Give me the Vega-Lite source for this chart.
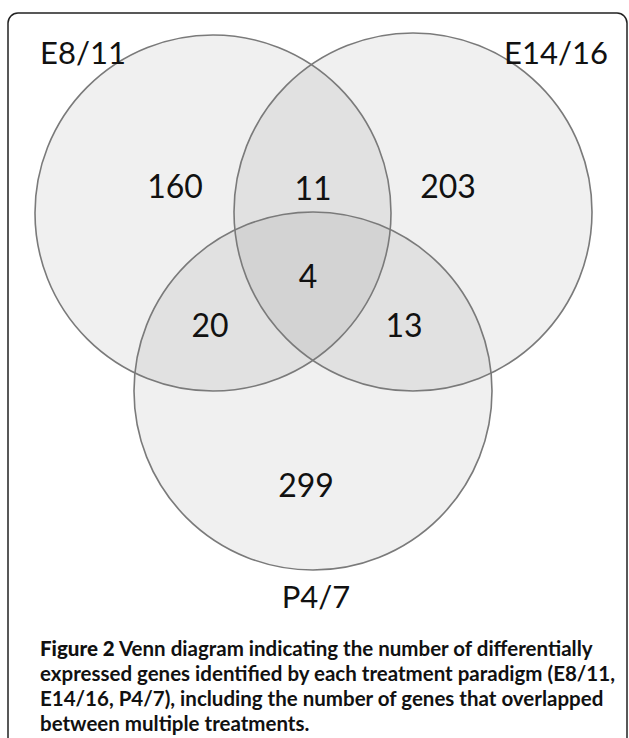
{
  "$schema": "https://vega.github.io/schema/vega-lite/v6.json",
  "width": 629,
  "height": 738,
  "padding": 0,
  "autosize": {"type": "none"},
  "background": "white",
  "config": {"view": {"stroke": null}},
  "datasets": {
    "box": [{"x": 8, "y": 13, "x2": 627, "y2": 760}],
    "circles": [
      {"set": "E8/11", "cx": 213, "cy": 213, "r": 178},
      {"set": "E14/16", "cx": 413, "cy": 212, "r": 179},
      {"set": "P4/7", "cx": 313, "cy": 391, "r": 179}
    ],
    "labels": [
      {"text": "E8/11", "x": 83, "y": 64},
      {"text": "E14/16", "x": 556, "y": 64},
      {"text": "P4/7", "x": 316, "y": 608}
    ],
    "counts": [
      {"region": "E8/11 only", "count": "160", "x": 175, "y": 198},
      {"region": "E8/11 & E14/16", "count": "11", "x": 313, "y": 200},
      {"region": "E14/16 only", "count": "203", "x": 448, "y": 198},
      {"region": "all three", "count": "4", "x": 308, "y": 288},
      {"region": "E8/11 & P4/7", "count": "20", "x": 210, "y": 337},
      {"region": "E14/16 & P4/7", "count": "13", "x": 404, "y": 337},
      {"region": "P4/7 only", "count": "299", "x": 306, "y": 497}
    ],
    "captionBold": [{"text": "Figure 2", "x": 40, "y": 656}],
    "caption": [
      {"text": "Venn diagram indicating the number of differentially", "x": 119, "y": 656},
      {"text": "expressed genes identified by each treatment paradigm (E8/11,", "x": 40, "y": 681},
      {"text": "E14/16, P4/7), including the number of genes that overlapped", "x": 40, "y": 706},
      {"text": "between multiple treatments.", "x": 40, "y": 731}
    ]
  },
  "layer": [
    {
      "data": {"name": "box"},
      "mark": {"type": "rect", "fill": null, "stroke": "#222222", "strokeWidth": 1.5, "cornerRadius": 10},
      "encoding": {
        "x": {"field": "x", "type": "quantitative", "scale": {"domain": [0, 629], "nice": false, "zero": false}, "axis": null},
        "y": {"field": "y", "type": "quantitative", "scale": {"domain": [0, 738], "nice": false, "zero": false, "reverse": true}, "axis": null},
        "x2": {"field": "x2"},
        "y2": {"field": "y2"}
      }
    },
    {
      "data": {"name": "circles"},
      "mark": {"type": "point", "shape": "circle", "filled": true, "fill": "#000000", "fillOpacity": 0.06, "strokeWidth": 0},
      "encoding": {
        "x": {"field": "cx", "type": "quantitative", "axis": null},
        "y": {"field": "cy", "type": "quantitative", "axis": null},
        "size": {"field": "r", "type": "quantitative", "legend": null, "scale": {"type": "pow", "exponent": 2, "domain": [0, 100], "range": [0, 40000]}}
      }
    },
    {
      "data": {"name": "circles"},
      "mark": {"type": "point", "shape": "circle", "filled": false, "stroke": "#7a7a7a", "strokeWidth": 1.6, "opacity": 1},
      "encoding": {
        "x": {"field": "cx", "type": "quantitative", "axis": null},
        "y": {"field": "cy", "type": "quantitative", "axis": null},
        "size": {"field": "r", "type": "quantitative", "legend": null, "scale": {"type": "pow", "exponent": 2, "domain": [0, 100], "range": [0, 40000]}}
      }
    },
    {
      "data": {"name": "labels"},
      "mark": {"type": "text", "font": "Lato", "fontSize": 31, "align": "center", "baseline": "alphabetic", "color": "#111111"},
      "encoding": {
        "x": {"field": "x", "type": "quantitative", "axis": null},
        "y": {"field": "y", "type": "quantitative", "axis": null},
        "text": {"field": "text"}
      }
    },
    {
      "data": {"name": "counts"},
      "mark": {"type": "text", "font": "Lato", "fontSize": 32, "align": "center", "baseline": "alphabetic", "color": "#111111"},
      "encoding": {
        "x": {"field": "x", "type": "quantitative", "axis": null},
        "y": {"field": "y", "type": "quantitative", "axis": null},
        "text": {"field": "count"}
      }
    },
    {
      "data": {"name": "captionBold"},
      "mark": {"type": "text", "font": "Lato", "fontSize": 20.5, "fontWeight": 900, "align": "left", "baseline": "alphabetic", "color": "#111111"},
      "encoding": {
        "x": {"field": "x", "type": "quantitative", "axis": null},
        "y": {"field": "y", "type": "quantitative", "axis": null},
        "text": {"field": "text"}
      }
    },
    {
      "data": {"name": "caption"},
      "mark": {"type": "text", "font": "Lato", "fontSize": 20.5, "fontWeight": "bold", "align": "left", "baseline": "alphabetic", "color": "#111111"},
      "encoding": {
        "x": {"field": "x", "type": "quantitative", "axis": null},
        "y": {"field": "y", "type": "quantitative", "axis": null},
        "text": {"field": "text"}
      }
    }
  ]
}
